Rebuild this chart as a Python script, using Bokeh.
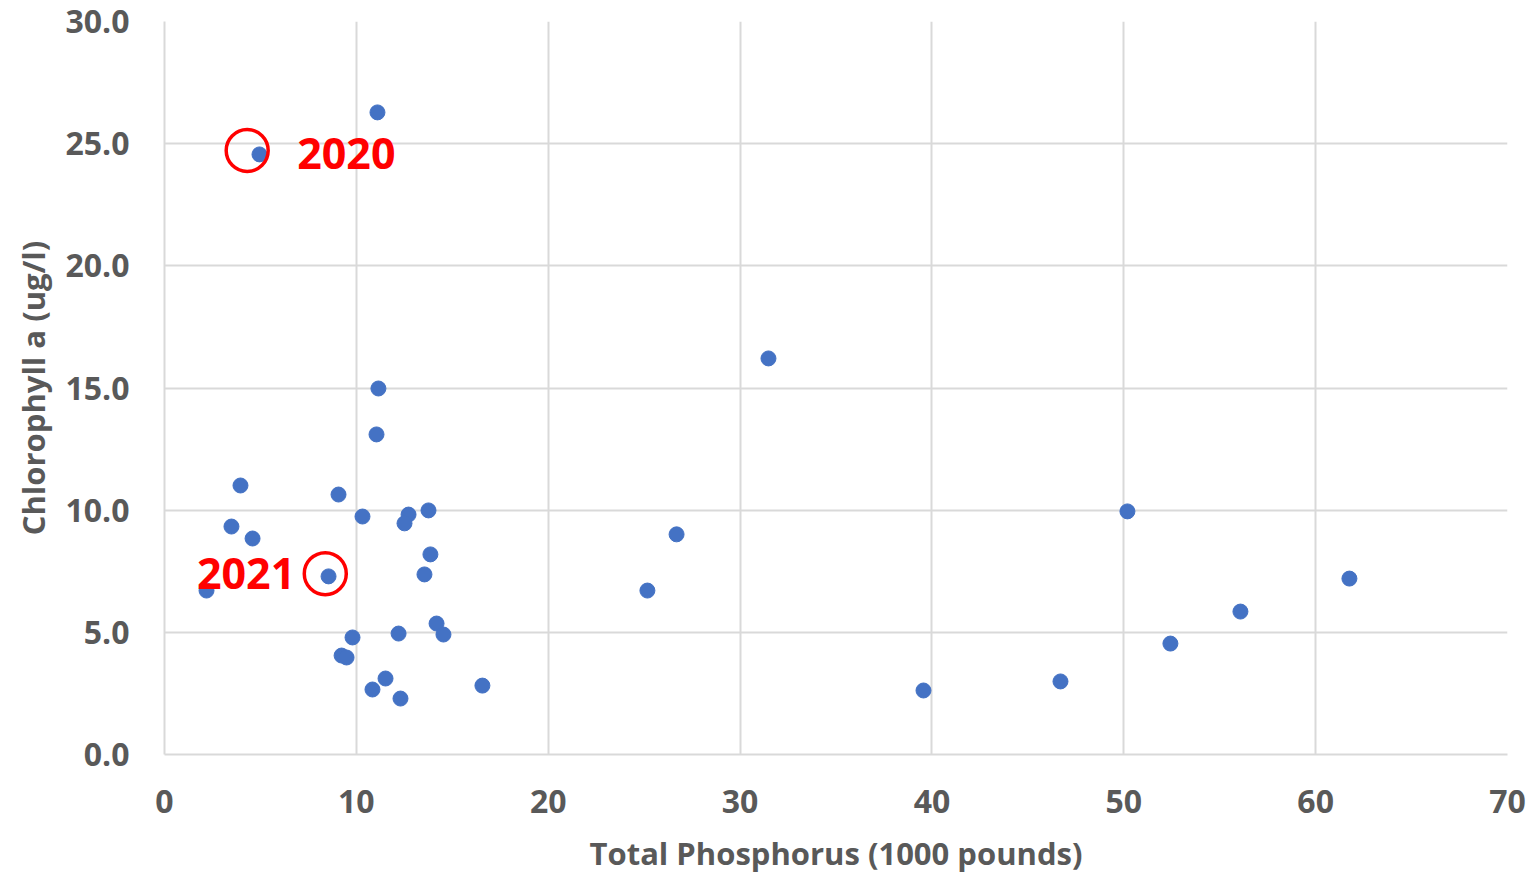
from bokeh.plotting import figure
from bokeh.models import ColumnDataSource, FixedTicker, NumeralTickFormatter
from bokeh.core.properties import value
from bokeh.embed import file_html
from bokeh.resources import INLINE

# Data
phosphorus = [11.10, 4.95, 31.48, 11.15, 11.05, 3.96, 9.07, 10.32, 12.72, 13.76,
              12.51, 3.49, 4.59, 26.69, 50.19, 13.86, 8.55, 13.55, 2.19, 25.17,
              61.76, 56.08, 14.18, 14.54, 12.20, 9.80, 52.43, 9.23, 9.49, 11.52,
              10.84, 12.30, 16.57, 39.56, 46.70]
chlorophyll = [26.28, 24.56, 16.21, 14.98, 13.10, 11.01, 10.64, 9.74, 9.82, 9.99,
               9.46, 9.33, 8.84, 9.01, 9.95, 8.19, 7.29, 7.37, 6.71, 6.71,
               7.20, 5.85, 5.36, 4.91, 4.95, 4.79, 4.54, 4.05, 3.97, 3.11,
               2.66, 2.29, 2.82, 2.62, 2.99]

highlight_years = ["2020", "2021"]
highlight_x = [4.31, 8.38]
highlight_y = [24.72, 7.40]

x_ticks = [0, 10, 20, 30, 40, 50, 60, 70]
y_ticks = [0, 5, 10, 15, 20, 25, 30]

FONT = "Open Sans"
GREY = "#595959"
GRID = "#d9d9d9"

p = figure(frame_width=1343, frame_height=733, output_backend="svg", toolbar_location=None,
           x_range=(0, 70), y_range=(0, 30),
           min_border_left=164, min_border_right=27, min_border_top=21, min_border_bottom=121)
p.outline_line_color = None
p.background_fill_color = "white"
p.border_fill_color = "white"

p.scatter(phosphorus, chlorophyll, size=15, fill_color="#4472C4", line_color="#4472C4")

src = ColumnDataSource(dict(x=highlight_x, y=highlight_y, t=highlight_years,
                            xo=[50, -30], yo=[3, 0], al=["left", "right"]))
p.scatter("x", "y", source=src, size=42, fill_color=None, line_color="#ff0000", line_width=3.5)
p.text("x", "y", text="t", source=src, x_offset="xo", y_offset="yo", text_align="al",
       text_baseline="middle", text_color="#ff0000", text_font=value(FONT),
       text_font_style="bold", text_font_size="43px")

for ax in (p.xaxis[0], p.yaxis[0]):
    ax.axis_line_color = GRID
    ax.axis_line_width = 2
    ax.major_tick_line_color = None
    ax.minor_tick_line_color = None
    ax.major_label_text_font = FONT
    ax.major_label_text_font_style = "bold"
    ax.major_label_text_font_size = "32px"
    ax.major_label_text_color = GREY
    ax.axis_label_text_font = FONT
    ax.axis_label_text_font_style = "bold"
    ax.axis_label_text_font_size = "31px"
    ax.axis_label_text_color = GREY

p.xaxis.ticker = FixedTicker(ticks=x_ticks)
p.yaxis.ticker = FixedTicker(ticks=y_ticks)
p.yaxis.formatter = NumeralTickFormatter(format="0.0")
p.xaxis.axis_label = "Total Phosphorus (1000 pounds)"
p.yaxis.axis_label = "Chlorophyll a (ug/l)"
p.xaxis.major_label_standoff = 29
p.yaxis.major_label_standoff = 29
p.xaxis.axis_label_standoff = 16
p.yaxis.axis_label_standoff = 8

p.xgrid.ticker = FixedTicker(ticks=x_ticks)
p.ygrid.ticker = FixedTicker(ticks=y_ticks)
p.grid.grid_line_color = GRID
p.grid.grid_line_width = 2

open("out.html", "w").write(file_html(p, INLINE))
